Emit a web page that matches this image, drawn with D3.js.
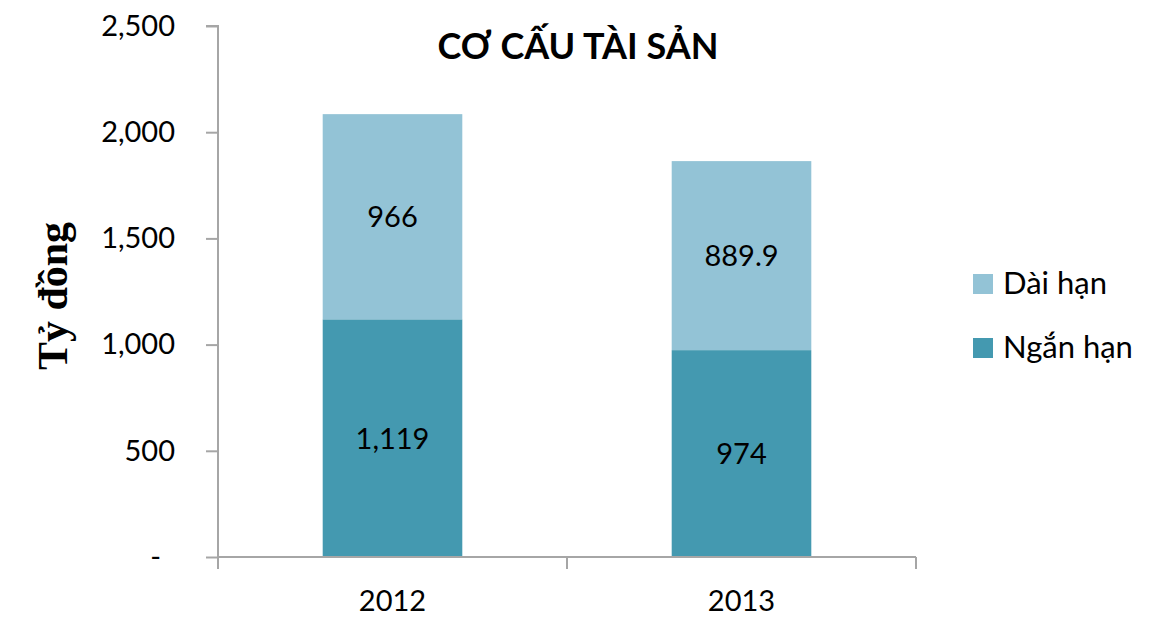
<!DOCTYPE html>
<html>
<head>
<meta charset="utf-8">
<script src="https://cdn.jsdelivr.net/npm/d3@7"></script>
<style>
  body { margin: 0; background: #fff; }
  svg { display: block; }
  text { fill: #000; }
</style>
</head>
<body>
<div id="chart"></div>
<script>
// data
let years = ["2012", "2013"];
let nganHan = [1119, 974];
let daiHan = [966, 889.9];
let seriesNames = ["Ngắn hạn", "Dài hạn"];
let seriesColors = ["#4499b0", "#93c3d6"];
let yTicks = [0, 500, 1000, 1500, 2000, 2500];
let labelsNgan = ["1,119", "974"];
let labelsDai = ["966", "889.9"];

let W = 1168, H = 618;
let margin = {top: 26, left: 218, right: 252, bottom: 61};
let sans = "Lato, 'Open Sans', sans-serif";

let svg = d3.select("#chart").append("svg")
    .attr("width", W).attr("height", H)
    .style("font-family", sans);

let x = d3.scaleBand()
    .domain(years)
    .range([margin.left, W - margin.right])
    .paddingInner(0.6)
    .paddingOuter(0.3);

let y = d3.scaleLinear()
    .domain([0, 2500])
    .range([H - margin.bottom, margin.top]);

// stacked table
let tabla = years.map((yr, i) => ({year: yr, "Ngắn hạn": nganHan[i], "Dài hạn": daiHan[i]}));
let stack = d3.stack().keys(seriesNames)(tabla);

let color = d3.scaleOrdinal().domain(seriesNames).range(seriesColors);

let capas = svg.selectAll("g.capa")
    .data(stack)
    .enter()
    .append("g")
    .attr("class", "capa")
    .attr("fill", d => color(d.key));

capas.selectAll("rect")
    .data(d => d)
    .enter()
    .append("rect")
    .attr("x", d => x(d.data.year))
    .attr("y", d => y(d[1]))
    .attr("width", x.bandwidth())
    .attr("height", d => y(d[0]) - y(d[1]));

// data labels
stack.forEach((s, k) => {
    let labs = k == 0 ? labelsNgan : labelsDai;
    svg.selectAll("text.lab" + k)
        .data(s)
        .enter()
        .append("text")
        .attr("class", "lab" + k)
        .attr("x", d => x(d.data.year) + x.bandwidth() / 2)
        .attr("y", d => (y(d[0]) + y(d[1])) / 2)
        .attr("dy", "0.36em")
        .attr("text-anchor", "middle")
        .attr("font-size", "29px")
        .text((d, i) => labs[i]);
});

// y axis
let fmt = d3.format(",");
let yAxis = d3.axisLeft(y)
    .tickValues(yTicks)
    .tickSize(12)
    .tickPadding(31)
    .tickFormat(d => d == 0 ? "-" : fmt(d));

let gy = svg.append("g")
    .attr("transform", `translate(${margin.left},0)`)
    .call(yAxis)
    .attr("font-family", null);
gy.selectAll("line, path").attr("stroke", "#a6a6a6").attr("stroke-width", 2);
gy.select(".domain").attr("d", `M-12,${y(2500)}H0V${y(0) + 12}`);
gy.selectAll("text").attr("font-size", "29px");
gy.selectAll(".tick text").filter(d => d == 0).attr("dx", "-14px");

// x axis
let xEdges = [margin.left, (margin.left + W - margin.right) / 2, W - margin.right];
let gx = svg.append("g");
gx.append("line")
    .attr("x1", margin.left).attr("x2", W - margin.right)
    .attr("y1", y(0)).attr("y2", y(0))
    .attr("stroke", "#a6a6a6").attr("stroke-width", 2);
gx.selectAll("line.tk")
    .data(xEdges)
    .enter()
    .append("line")
    .attr("class", "tk")
    .attr("x1", d => d).attr("x2", d => d)
    .attr("y1", y(0)).attr("y2", y(0) + 12)
    .attr("stroke", "#a6a6a6").attr("stroke-width", 2);
gx.selectAll("text")
    .data(years)
    .enter()
    .append("text")
    .attr("x", d => x(d) + x.bandwidth() / 2)
    .attr("y", 611)
    .attr("text-anchor", "middle")
    .attr("font-size", "29px")
    .text(d => d);

// title
svg.append("text")
    .attr("x", 578)
    .attr("y", 59)
    .attr("text-anchor", "middle")
    .attr("font-size", "36px")
    .attr("font-weight", "bold")
    .text("CƠ CẤU TÀI SẢN");

// y axis title
svg.append("text")
    .attr("transform", "translate(67,296) rotate(-90)")
    .attr("text-anchor", "middle")
    .style("font-family", "'Liberation Serif', 'DejaVu Serif', serif")
    .attr("font-size", "42px")
    .attr("font-weight", "bold")
    .text("Tỷ đồng");

// legend
let leyenda = svg.selectAll("g.ley")
    .data(["Dài hạn", "Ngắn hạn"])
    .enter()
    .append("g")
    .attr("class", "ley")
    .attr("transform", (d, i) => `translate(973,${274 + i * 64})`);
leyenda.append("rect")
    .attr("width", 20).attr("height", 20)
    .attr("fill", d => color(d));
leyenda.append("text")
    .attr("x", 30)
    .attr("y", 20)
    .attr("font-size", "31px")
    .text(d => d);
</script>
</body>
</html>
